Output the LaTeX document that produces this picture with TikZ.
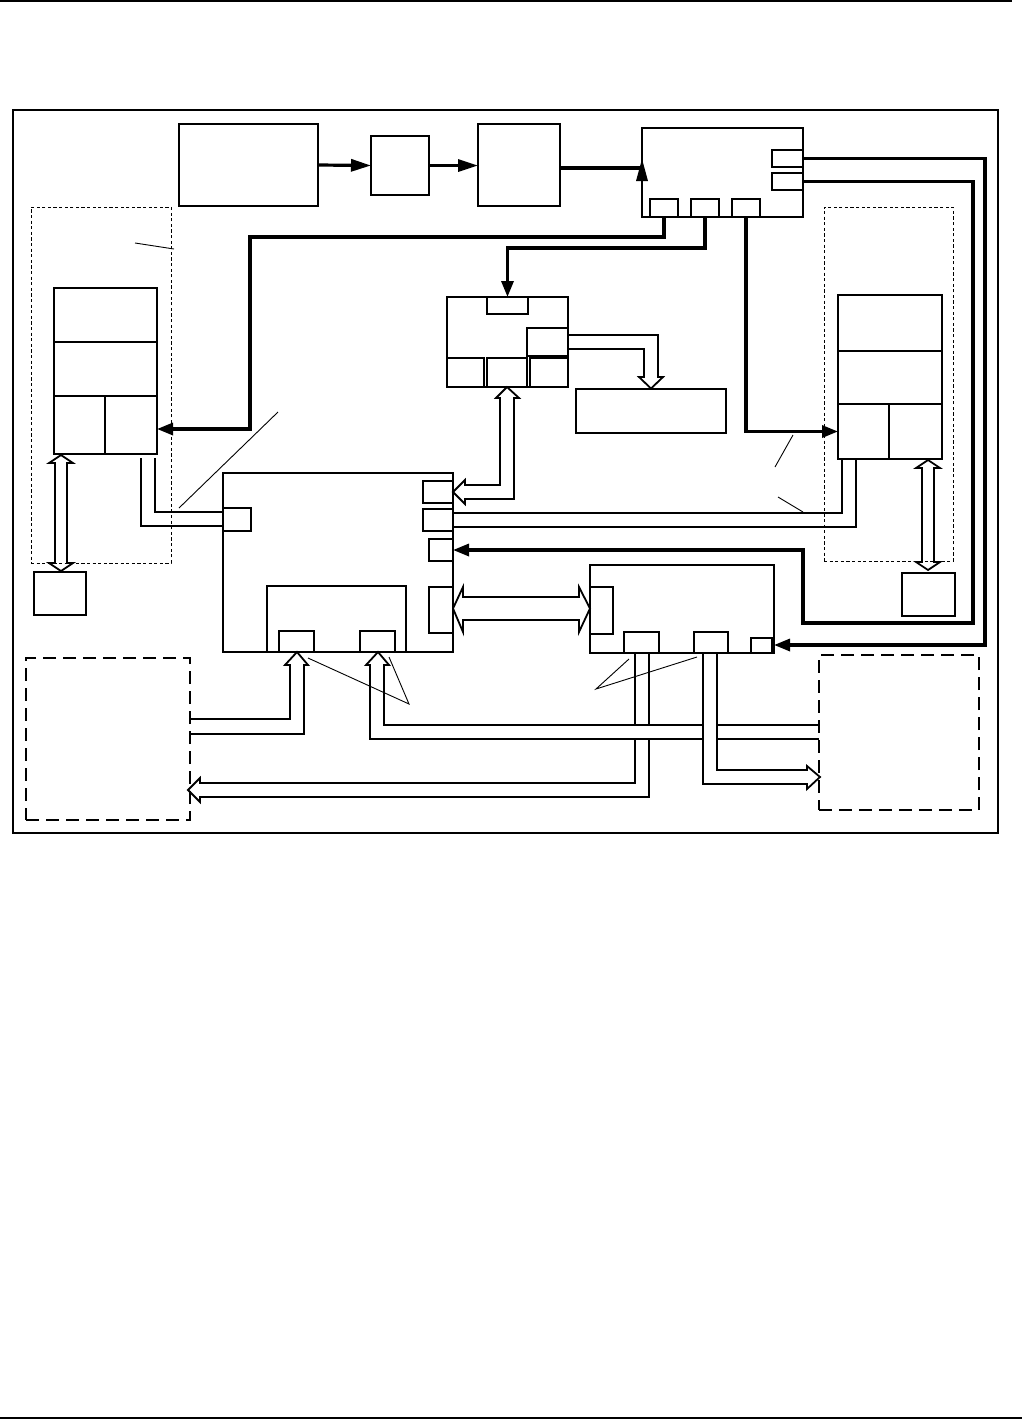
\documentclass[tikz,border=0pt]{standalone}
\usetikzlibrary{arrows.meta}
\tikzset{
 bx/.style={draw, line width=0.9pt, inner sep=0pt, outer sep=0pt},
 frm/.style={draw, line width=0.6pt, inner sep=0pt, outer sep=0pt},
 mdash/.style={draw, line width=0.5pt, dash pattern=on 1.6pt off 1.2pt, inner sep=0pt, outer sep=0pt},
 bdash/.style={draw, line width=1pt, dash pattern=on 6.5pt off 3.5pt, inner sep=0pt, outer sep=0pt},
 thk/.style={line width=1.6pt, -{Triangle[length=8pt,width=6pt]}},
 thkA/.style={line width=1.6pt, -{Triangle[length=10pt,width=6pt]}},
 thkl/.style={line width=1.6pt},
 hol/.style={line width=0.9pt, line join=miter},
 call/.style={line width=0.45pt},
 rule/.style={line width=1pt},
}
\newcommand\mkbox[6][bx]{\pgfmathsetmacro\bw{(#5-#3)*0.5}\pgfmathsetmacro\bh{(#6-#4)*0.5}\node[#1,minimum width=\bw pt,minimum height=\bh pt,anchor=north west] (#2) at (#3,#4) {};}
\begin{document}
\begin{tikzpicture}[x=0.5pt,y=-0.5pt]
\useasboundingbox (0,0) rectangle (1022,1419);
% page rules
\coordinate (r1a) at (0,1); \coordinate (r1b) at (1012,1);
\coordinate (r2a) at (0,1417.5); \coordinate (r2b) at (1022,1417.5);
\draw[rule] (r1a) -- (r1b);
\draw[rule] (r2a) -- (r2b);
% frame
\mkbox[frm]{frame}{13}{110}{998}{833}
% top chain
\mkbox{A}{179}{124}{318}{206}
\mkbox{B}{371}{136}{429}{195}
\mkbox{C}{478}{124}{560}{206}
\mkbox{D}{642}{128}{803}{217}
\mkbox{D1}{772}{150}{803}{167}
\mkbox{D2}{772}{173}{803}{190}
\mkbox{Da}{650}{199}{678}{217}
\mkbox{Db}{691}{199}{719}{217}
\mkbox{Dc}{732}{199}{760}{217}
% middle box E
\mkbox{E}{447}{297}{568}{387}
\mkbox{Et}{487}{297}{528}{314}
\mkbox{Er}{527}{328}{568}{356}
\mkbox{Eb1}{447}{358}{484}{387}
\mkbox{Eb2}{487}{358}{527}{387}
\mkbox{Eb3}{530}{358}{568}{387}
\mkbox{F}{576}{389}{726}{433}
% box G
\mkbox{G}{223}{473}{453}{652}
\mkbox{G1}{423}{481}{453}{503}
\mkbox{G2}{423}{509}{453}{531}
\mkbox{G3}{429}{539}{453}{561}
\mkbox{G4}{429}{587}{453}{633}
\mkbox{GL}{223}{508}{251}{531}
\mkbox{Gi}{267}{586}{406}{652}
\mkbox{Gi1}{279}{631}{314}{652}
\mkbox{Gi2}{360}{631}{395}{652}
% box H
\mkbox{H}{590}{565}{774}{653}
\mkbox{HL}{590}{587}{613}{634}
\mkbox{Hb1}{624}{632}{659}{653}
\mkbox{Hb2}{694}{632}{728}{653}
\mkbox{Hs}{751}{638}{772}{653}
% left module
\mkbox[mdash]{LMd}{31}{207}{171}{563}
\mkbox{LM1}{54}{288}{157}{342}
\mkbox{LM2}{54}{342}{157}{396}
\mkbox{LM3a}{54}{396}{105}{454}
\mkbox{LM3b}{105}{396}{157}{454}
\mkbox{LS}{34}{572}{86}{615}
% right module
\mkbox[mdash]{RMd}{824}{207}{953}{561}
\mkbox{RM1}{838}{295}{942}{351}
\mkbox{RM2}{838}{351}{942}{404}
\mkbox{RM3a}{838}{404}{889}{459}
\mkbox{RM3b}{889}{404}{942}{459}
\mkbox{RS}{902}{573}{955}{616}
% external dashed boxes
\mkbox[bdash]{BL}{26}{658}{190}{820}
\mkbox[bdash]{BR}{819}{655}{979}{810}
% thick arrows
\draw[thkA] (A.east) -- (B.west);
\draw[thkA] (B.east) -- (C.west |- B.east);
\coordinate (cd) at (642,168);
\draw[thkl] (C.east |- cd) -- (cd);
\fill (636,181) -- (642,159) -- (648,181) -- cycle;
\draw[thk] (D1.east) -| (985,645) -- (H.east |- 0,645);
\draw[thk] (D2.east) -| (973,623) -| (803,550) -- (G3.east);
\draw[thk] (Da.south) |- (250,237) -- (250,429) -- (LM3b.east |- 0,429);
\draw[thk] (Db.south) |- (Et.north |- 0,248) -- (Et.north);
\draw[thk] (Dc.south) |- (RM3a.west);
% hollow connectors
\draw[hol] (568,335) -| (658,377) -- (663,377) -- (651,388.5) -- (639,377) -- (644,377) |- (568,349);
\draw[hol] (465,485) -- (500,485) -- (500,398) -- (496,398) -- (507,387) -- (519,398) -- (514,398) -- (514,499) -- (465,499) -- (465,504) -- (453,492) -- (465,480) -- cycle;
\draw[hol] (G2.east |- 0,513) -| (842,459);
\draw[hol] (G2.east |- 0,527) -| (856,459);
\draw[hol] (GL.west |- 0,512) -| (155,458);
\draw[hol] (GL.west |- 0,526) -| (141,458);
\draw[hol] (55,463) -- (49,463) -- (61,455) -- (73,463) -- (67,463) -- (67,563) -- (73,563) -- (61,571) -- (49,563) -- (55,563) -- cycle;
\draw[hol] (922,468) -- (916,468) -- (928,460) -- (940,468) -- (934,468) -- (934,562) -- (940,562) -- (928,570) -- (916,562) -- (922,562) -- cycle;
\draw[hol] (463,597) -- (463,587) -- (453,608.5) -- (463,632) -- (463,620) -- (579,620) -- (579,632) -- (590,608.5) -- (579,587) -- (579,597) -- cycle;
\draw[hol] (190,719) -- (290,719) -- (290,665) -- (285,665) -- (297,652) -- (308,665) -- (304,665) -- (304,734) -- (190,734);
\draw[hol] (703,725) -- (384,725) -- (384,665) -- (389,665) -- (378,652) -- (366,665) -- (370,665) -- (370,739) -- (703,739);
\draw[hol] (717,725) -- (819,725);
\draw[hol] (717,739) -- (819,739);
\draw[hol] (635,653) -- (635,725);
\draw[hol] (649,653) -- (649,725);
\draw[hol] (635,739) |- (200,783) -- (200,778) -- (188,790) -- (200,802) -- (200,797) -| (649,739);
\draw[hol] (717,653) |- (807,770) -- (807,766) -- (820,777) -- (807,789) -- (807,784) -| (703,653);
% callout lines
\draw[call] (135,243) -- (174,249);
\draw[call] (278,412) -- (179,508);
\draw[call] (793,435) -- (775,467);
\draw[call] (778,497) -- (803,512);
\draw[call] (308,658) -- (409,704) -- (389,657);
\draw[call] (629,659) -- (596,689) -- (697,657);
\end{tikzpicture}
\end{document}
